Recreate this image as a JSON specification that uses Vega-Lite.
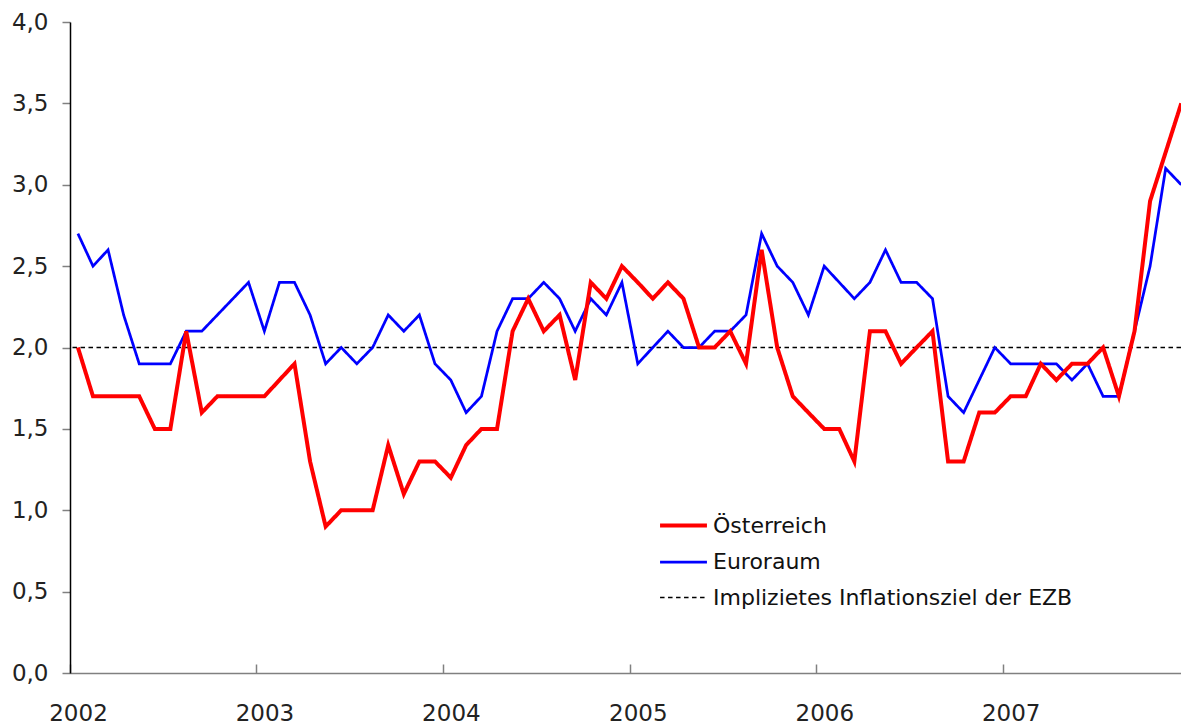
{
  "$schema": "https://vega.github.io/schema/vega-lite/v6.json",
  "width": 1111,
  "height": 651,
  "autosize": "none",
  "padding": {"left": 70, "top": 22, "right": 0, "bottom": 54},
  "background": "white",
  "config": {
    "view": {"stroke": null},
    "font": "DejaVu Sans",
    "axis": {"labelFont": "DejaVu Sans", "labelFontSize": 23, "labelColor": "#222222", "grid": false, "title": null},
    "legend": {"labelFont": "DejaVu Sans", "labelFontSize": 23, "labelColor": "#111111", "labelLimit": 600}
  },
  "datasets": {
    "hvpi": [
      {"month": "2002-01", "Österreich": 2.0, "Euroraum": 2.7},
      {"month": "2002-02", "Österreich": 1.7, "Euroraum": 2.5},
      {"month": "2002-03", "Österreich": 1.7, "Euroraum": 2.6},
      {"month": "2002-04", "Österreich": 1.7, "Euroraum": 2.2},
      {"month": "2002-05", "Österreich": 1.7, "Euroraum": 1.9},
      {"month": "2002-06", "Österreich": 1.5, "Euroraum": 1.9},
      {"month": "2002-07", "Österreich": 1.5, "Euroraum": 1.9},
      {"month": "2002-08", "Österreich": 2.1, "Euroraum": 2.1},
      {"month": "2002-09", "Österreich": 1.6, "Euroraum": 2.1},
      {"month": "2002-10", "Österreich": 1.7, "Euroraum": 2.2},
      {"month": "2002-11", "Österreich": 1.7, "Euroraum": 2.3},
      {"month": "2002-12", "Österreich": 1.7, "Euroraum": 2.4},
      {"month": "2003-01", "Österreich": 1.7, "Euroraum": 2.1},
      {"month": "2003-02", "Österreich": 1.8, "Euroraum": 2.4},
      {"month": "2003-03", "Österreich": 1.9, "Euroraum": 2.4},
      {"month": "2003-04", "Österreich": 1.3, "Euroraum": 2.2},
      {"month": "2003-05", "Österreich": 0.9, "Euroraum": 1.9},
      {"month": "2003-06", "Österreich": 1.0, "Euroraum": 2.0},
      {"month": "2003-07", "Österreich": 1.0, "Euroraum": 1.9},
      {"month": "2003-08", "Österreich": 1.0, "Euroraum": 2.0},
      {"month": "2003-09", "Österreich": 1.4, "Euroraum": 2.2},
      {"month": "2003-10", "Österreich": 1.1, "Euroraum": 2.1},
      {"month": "2003-11", "Österreich": 1.3, "Euroraum": 2.2},
      {"month": "2003-12", "Österreich": 1.3, "Euroraum": 1.9},
      {"month": "2004-01", "Österreich": 1.2, "Euroraum": 1.8},
      {"month": "2004-02", "Österreich": 1.4, "Euroraum": 1.6},
      {"month": "2004-03", "Österreich": 1.5, "Euroraum": 1.7},
      {"month": "2004-04", "Österreich": 1.5, "Euroraum": 2.1},
      {"month": "2004-05", "Österreich": 2.1, "Euroraum": 2.3},
      {"month": "2004-06", "Österreich": 2.3, "Euroraum": 2.3},
      {"month": "2004-07", "Österreich": 2.1, "Euroraum": 2.4},
      {"month": "2004-08", "Österreich": 2.2, "Euroraum": 2.3},
      {"month": "2004-09", "Österreich": 1.8, "Euroraum": 2.1},
      {"month": "2004-10", "Österreich": 2.4, "Euroraum": 2.3},
      {"month": "2004-11", "Österreich": 2.3, "Euroraum": 2.2},
      {"month": "2004-12", "Österreich": 2.5, "Euroraum": 2.4},
      {"month": "2005-01", "Österreich": 2.4, "Euroraum": 1.9},
      {"month": "2005-02", "Österreich": 2.3, "Euroraum": 2.0},
      {"month": "2005-03", "Österreich": 2.4, "Euroraum": 2.1},
      {"month": "2005-04", "Österreich": 2.3, "Euroraum": 2.0},
      {"month": "2005-05", "Österreich": 2.0, "Euroraum": 2.0},
      {"month": "2005-06", "Österreich": 2.0, "Euroraum": 2.1},
      {"month": "2005-07", "Österreich": 2.1, "Euroraum": 2.1},
      {"month": "2005-08", "Österreich": 1.9, "Euroraum": 2.2},
      {"month": "2005-09", "Österreich": 2.6, "Euroraum": 2.7},
      {"month": "2005-10", "Österreich": 2.0, "Euroraum": 2.5},
      {"month": "2005-11", "Österreich": 1.7, "Euroraum": 2.4},
      {"month": "2005-12", "Österreich": 1.6, "Euroraum": 2.2},
      {"month": "2006-01", "Österreich": 1.5, "Euroraum": 2.5},
      {"month": "2006-02", "Österreich": 1.5, "Euroraum": 2.4},
      {"month": "2006-03", "Österreich": 1.3, "Euroraum": 2.3},
      {"month": "2006-04", "Österreich": 2.1, "Euroraum": 2.4},
      {"month": "2006-05", "Österreich": 2.1, "Euroraum": 2.6},
      {"month": "2006-06", "Österreich": 1.9, "Euroraum": 2.4},
      {"month": "2006-07", "Österreich": 2.0, "Euroraum": 2.4},
      {"month": "2006-08", "Österreich": 2.1, "Euroraum": 2.3},
      {"month": "2006-09", "Österreich": 1.3, "Euroraum": 1.7},
      {"month": "2006-10", "Österreich": 1.3, "Euroraum": 1.6},
      {"month": "2006-11", "Österreich": 1.6, "Euroraum": 1.8},
      {"month": "2006-12", "Österreich": 1.6, "Euroraum": 2.0},
      {"month": "2007-01", "Österreich": 1.7, "Euroraum": 1.9},
      {"month": "2007-02", "Österreich": 1.7, "Euroraum": 1.9},
      {"month": "2007-03", "Österreich": 1.9, "Euroraum": 1.9},
      {"month": "2007-04", "Österreich": 1.8, "Euroraum": 1.9},
      {"month": "2007-05", "Österreich": 1.9, "Euroraum": 1.8},
      {"month": "2007-06", "Österreich": 1.9, "Euroraum": 1.9},
      {"month": "2007-07", "Österreich": 2.0, "Euroraum": 1.7},
      {"month": "2007-08", "Österreich": 1.7, "Euroraum": 1.7},
      {"month": "2007-09", "Österreich": 2.1, "Euroraum": 2.1},
      {"month": "2007-10", "Österreich": 2.9, "Euroraum": 2.5},
      {"month": "2007-11", "Österreich": 3.2, "Euroraum": 3.1},
      {"month": "2007-12", "Österreich": 3.5, "Euroraum": 3.0}
    ],
    "ziel": [
      {"series": "Implizietes Inflationsziel der EZB", "value": 2.0}
    ]
  },
  "encoding": {
    "color": {
      "field": "series",
      "type": "nominal",
      "scale": {
        "domain": ["Österreich", "Euroraum", "Implizietes Inflationsziel der EZB"],
        "range": ["#FF0000", "#0000FF", "#000000"]
      },
      "legend": {
        "title": null,
        "orient": "none",
        "legendX": 588,
        "legendY": 478,
        "symbolType": "stroke",
        "symbolSize": 2200,
        "labelOffset": 4,
        "rowPadding": 0,
        "labelFontSize": 22
      }
    },
    "strokeDash": {
      "field": "series",
      "type": "nominal",
      "scale": {
        "domain": ["Österreich", "Euroraum", "Implizietes Inflationsziel der EZB"],
        "range": [[1, 0], [1, 0], [4.5, 3.5]]
      },
      "legend": {
        "title": null,
        "orient": "none",
        "legendX": 588,
        "legendY": 478,
        "symbolType": "stroke",
        "symbolSize": 2200,
        "labelOffset": 4,
        "rowPadding": 0,
        "labelFontSize": 22
      }
    },
    "strokeWidth": {
      "field": "series",
      "type": "nominal",
      "scale": {
        "domain": ["Österreich", "Euroraum", "Implizietes Inflationsziel der EZB"],
        "range": [4, 1.5, 2]
      },
      "legend": {
        "title": null,
        "orient": "none",
        "legendX": 588,
        "legendY": 478,
        "symbolType": "stroke",
        "symbolSize": 2200,
        "labelOffset": 4,
        "rowPadding": 0,
        "labelFontSize": 22
      }
    }
  },
  "layer": [
    {
      "data": {"name": "ziel"},
      "mark": {"type": "rule"},
      "encoding": {
        "y": {"field": "value", "type": "quantitative", "scale": {"domain": [0, 4], "nice": false}}
      }
    },
    {
      "data": {"name": "hvpi"},
      "transform": [
        {"fold": ["Euroraum", "Österreich"], "as": ["series", "value"]}
      ],
      "mark": {"type": "line", "strokeJoin": "miter", "strokeCap": "butt"},
      "encoding": {
        "x": {
          "field": "month",
          "type": "temporal",
          "timeUnit": "utcyearmonth",
          "bandPosition": 0.5,
          "scale": {
            "domain": [
              {"year": 2002, "month": 1, "date": 1, "utc": true},
              {"year": 2007, "month": 12, "date": 16, "utc": true}
            ]
          },
          "axis": {
            "values": [
              {"year": 2002, "month": 1, "date": 1, "utc": true},
              {"year": 2003, "month": 1, "date": 1, "utc": true},
              {"year": 2004, "month": 1, "date": 1, "utc": true},
              {"year": 2005, "month": 1, "date": 1, "utc": true},
              {"year": 2006, "month": 1, "date": 1, "utc": true},
              {"year": 2007, "month": 1, "date": 1, "utc": true}
            ],
            "labelExpr": "utcFormat(datum.value, '%Y')",
            "domainColor": "#808080",
            "domainWidth": 1.5,
            "tickColor": "#808080",
            "tickWidth": 1.5,
            "tickSize": -9,
            "labelPadding": 38,
            "labelOffset": 8,
            "labelFlush": false,
            "labelOverlap": false
          }
        },
        "y": {
          "field": "value",
          "type": "quantitative",
          "scale": {"domain": [0, 4], "nice": false},
          "axis": {
            "values": [0, 0.5, 1, 1.5, 2, 2.5, 3, 3.5, 4],
            "labelExpr": "replace(format(datum.value, '.1f'), '.', ',')",
            "domainColor": "#000000",
            "domainWidth": 1.5,
            "tickColor": "#808080",
            "tickWidth": 1.5,
            "tickSize": 8,
            "labelPadding": 14
          }
        },
        "order": {"field": "month"}
      }
    }
  ]
}
